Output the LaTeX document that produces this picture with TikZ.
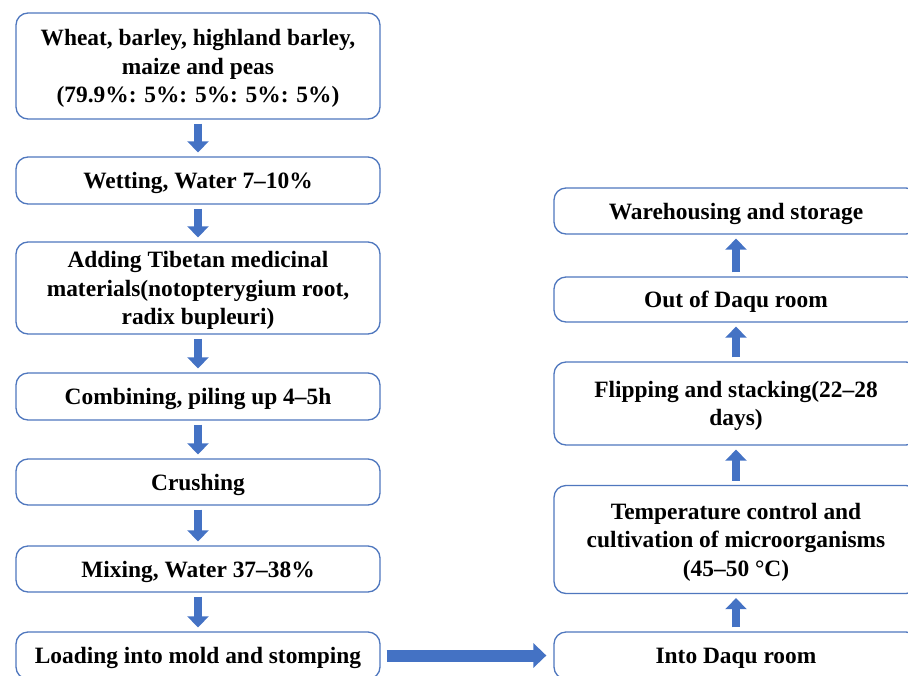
\documentclass[tikz,border=0pt]{standalone}
\usepackage{fontspec}
\setmainfont{Liberation Serif}
\usetikzlibrary{arrows.meta}
\definecolor{boxline}{HTML}{4F77BE}
\definecolor{arrowblue}{HTML}{4472C4}
\begin{document}
\begin{tikzpicture}[x=1pt,y=-1pt,
  flowbox/.style={draw=boxline, line width=1.3pt, rounded corners=12pt, fill=white,
    minimum width=364pt, align=center, inner sep=0pt, text depth=0pt,
    font=\fontsize{23.4}{28.5}\selectfont\bfseries},
  blockarrow/.style={draw=arrowblue, line width=8.5pt,
    -{Triangle[width=21pt,length=11pt]}, arrowblue, shorten <=4pt, shorten >=4pt},
  widearrow/.style={draw=arrowblue, line width=12pt,
    -{Triangle[width=24pt,length=13pt]}, arrowblue, shorten <=6pt, shorten >=7pt}]
\useasboundingbox (0,0) rectangle (908,675);
% left column
\node[flowbox, minimum height=106pt] (b1) at (198,66) {Wheat, barley, highland barley,\\maize and peas\\(79.9\%: 5\%: 5\%: 5\%: 5\%)};
\node[flowbox, minimum height=47pt] (b2) at (198,180.5) {Wetting, Water 7–10\%};
\node[flowbox, minimum height=92pt] (b3) at (198,288) {Adding Tibetan medicinal\\materials(notopterygium root,\\radix bupleuri)};
\node[flowbox, minimum height=47pt] (b4) at (198,396.5) {Combining, piling up 4–5h};
\node[flowbox, minimum height=46pt] (b5) at (198,482) {Crushing};
\node[flowbox, minimum height=46pt] (b6) at (198,569) {Mixing, Water 37–38\%};
\node[flowbox, minimum height=47pt] (b7) at (198,655.5) {Loading into mold and stomping};
% right column
\node[flowbox, minimum height=47pt] (r1) at (736,655.5) {Into Daqu room};
\node[flowbox, minimum height=108pt] (r2) at (736,539.5) {Temperature control and\\cultivation of microorganisms\\(45–50 °C)};
\node[flowbox, minimum height=83pt] (r3) at (736,403.5) {Flipping and stacking(22–28\\days)};
\node[flowbox, minimum height=45pt] (r4) at (736,299.5) {Out of Daqu room};
\node[flowbox, minimum height=46pt] (r5) at (736,211) {Warehousing and storage};
% arrows
\draw[blockarrow] (b1) -- (b2);
\draw[blockarrow] (b2) -- (b3);
\draw[blockarrow] (b3) -- (b4);
\draw[blockarrow] (b4) -- (b5);
\draw[blockarrow] (b5) -- (b6);
\draw[blockarrow] (b6) -- (b7);
\draw[widearrow] (b7) -- (r1);
\draw[blockarrow] (r1) -- (r2);
\draw[blockarrow] (r2) -- (r3);
\draw[blockarrow] (r3) -- (r4);
\draw[blockarrow] (r4) -- (r5);
\end{tikzpicture}
\end{document}
